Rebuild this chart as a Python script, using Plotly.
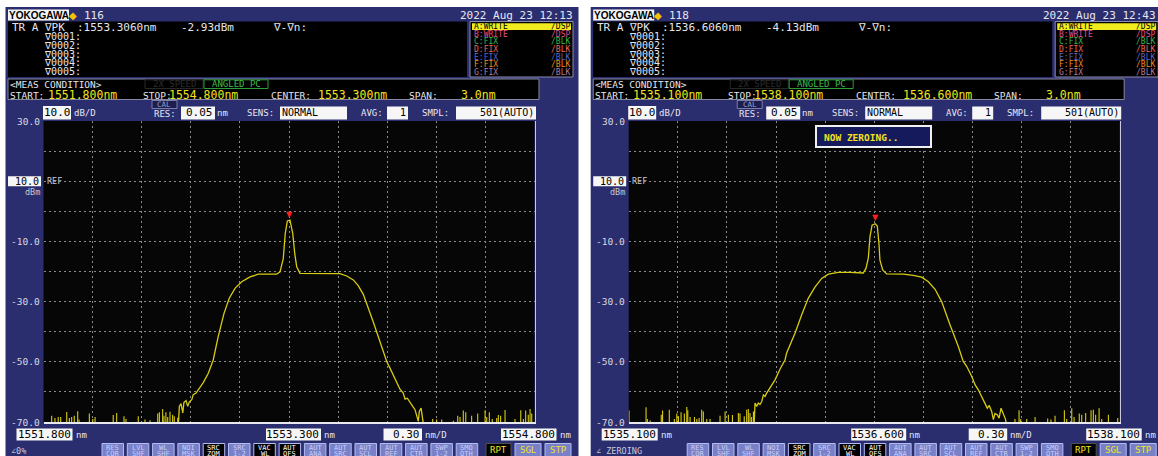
import plotly.graph_objects as go

W, H = 1158, 456

# ---------------- instrument readouts ----------------
screen_ids = ["116", "118"]
screen_dates = ["2022 Aug 23 12:13", "2022 Aug 23 12:43"]
screen_status = ["∠0%", "∠ ZEROING"]
starts = [1551.8, 1535.1]
stops = [1554.8, 1538.1]
centers = [1553.3, 1536.6]
peak_nm = [1553.306, 1536.606]
peak_dbm = [-2.93, -4.13]
nm_per_div = 0.30
db_per_div = 10.0
ref_level = 10.0
y_top, y_bottom = 30.0, -70.0
y_tick_vals = [30, 20, 10, 0, -10, -20, -30, -40, -50, -60, -70]
y_tick_text = ["30.0", "", "", "", "-10.0", "", "-30.0", "", "-50.0", "", "-70.0"]
res_nm, sens, avg, smpl = "0.05", "NORMAL", "1", "501(AUTO)"
trace_rows = [("A:WRITE", "/DSP"), ("B:WRITE", "/DSP"), ("C:FIX", "/BLK"), ("D:FIX", "/BLK"),
              ("E:FIX", "/BLK"), ("F:FIX", "/BLK"), ("G:FIX", "/BLK")]
trace_row_colors = ["#000000", "#e0508c", "#38b848", "#e86a5a", "#5a66c8", "#f08a20", "#b07ca0"]
buttons = [("RES", "COR"), ("LVL", "SHF"), ("WL", "SHF"), ("NOI", "MSK"), ("SRC", "ZOM"), ("SRC", "1-2"),
           ("VAC", "WL"), ("AUT", "OFS"), ("AUT", "ANA"), ("AUT", "SRC"), ("AUT", "SCL"), ("AUT", "REF"),
           ("AUT", "CTR"), ("SWP", "1-2"), ("SMO", "OTH")]
dark_buttons = [4, 6, 7]

# ---------------- spectrum, screen 1 ----------------
left_curve_nm = [1552.624, 1552.630, 1552.640, 1552.651, 1552.658, 1552.671, 1552.681, 1552.691, 1552.706, 1552.715,
                 1552.732, 1552.746, 1552.776, 1552.807, 1552.837, 1552.868, 1552.903, 1552.935, 1552.970, 1553.011,
                 1553.062, 1553.112, 1553.184, 1553.225, 1553.245, 1553.265, 1553.277, 1553.290, 1553.306, 1553.323,
                 1553.335, 1553.347, 1553.367, 1553.489, 1553.611, 1553.653, 1553.693, 1553.723, 1553.754, 1553.815,
                 1553.846, 1553.876, 1553.897, 1553.917, 1553.948, 1553.978, 1553.998, 1554.009, 1554.023, 1554.035,
                 1554.056, 1554.070, 1554.080, 1554.090, 1554.096, 1554.107, 1554.117, 1554.125]
left_curve_dbm = [-71.0, -64.8, -63.9, -67.0, -63.5, -62.9, -64.8, -63.3, -62.6, -60.9,
                  -60.4, -59.3, -56.9, -53.8, -49.4, -41.5, -33.9, -28.9, -25.6, -23.4,
                  -21.8, -20.9, -20.9, -20.9, -20.1, -15.7, -7.4, -3.2, -2.93, -7.4,
                  -14.0, -18.4, -20.6, -20.6, -20.7, -21.5, -22.8, -24.7, -27.6, -36.8,
                  -41.5, -46.4, -49.9, -52.1, -55.4, -59.1, -60.4, -62.4, -62.1, -63.2,
                  -64.8, -65.9, -67.9, -69.8, -66.5, -65.4, -69.2, -72.0]
left_noise_nm = [1551.850, 1551.870, 1551.890, 1551.905, 1551.942, 1551.958, 1551.972, 1551.988, 1552.009, 1552.017,
                 1552.080, 1552.101, 1552.115, 1552.226, 1552.247, 1552.292, 1552.304, 1552.379, 1552.420, 1552.451,
                 1552.498, 1552.508, 1552.528, 1552.536, 1552.548, 1552.559, 1552.573, 1552.589, 1552.599, 1552.620,
                 1554.178, 1554.202, 1554.233, 1554.304, 1554.331, 1554.345, 1554.365, 1554.380, 1554.416, 1554.453,
                 1554.498, 1554.508, 1554.524, 1554.542, 1554.569, 1554.579, 1554.593, 1554.620, 1554.681, 1554.716,
                 1554.732, 1554.746, 1554.762, 1554.773, 1554.783]
left_noise_dbm = [-67.9, -68.7, -68.3, -68.3, -66.7, -68.7, -68.3, -67.9, -66.4, -69.2,
                  -67.2, -69.0, -68.3, -67.7, -67.0, -68.1, -69.0, -68.1, -69.2, -69.4,
                  -67.2, -66.8, -65.7, -67.9, -66.8, -68.3, -66.6, -67.6, -68.1, -68.6,
                  -69.0, -69.2, -69.2, -69.6, -67.9, -68.3, -66.2, -66.8, -67.9, -67.2,
                  -66.1, -68.3, -66.8, -69.0, -68.7, -67.7, -67.9, -66.0, -69.0, -66.1,
                  -69.0, -66.2, -67.6, -65.7, -67.2]

# ---------------- spectrum, screen 2 ----------------
right_curve_nm = [1535.866, 1535.872, 1535.882, 1535.892, 1535.902, 1535.913, 1535.923, 1535.933, 1535.943, 1535.964,
                  1535.994, 1536.025, 1536.055, 1536.065, 1536.106, 1536.116, 1536.157, 1536.197, 1536.238, 1536.279,
                  1536.320, 1536.381, 1536.452, 1536.533, 1536.550, 1536.564, 1536.574, 1536.587, 1536.606, 1536.619,
                  1536.629, 1536.635, 1536.652, 1536.676, 1536.778, 1536.839, 1536.890, 1536.931, 1536.972, 1537.012,
                  1537.063, 1537.094, 1537.114, 1537.144, 1537.165, 1537.196, 1537.216, 1537.236, 1537.257, 1537.277,
                  1537.291, 1537.303, 1537.318, 1537.328, 1537.338, 1537.352, 1537.363, 1537.375, 1537.389, 1537.403,
                  1537.410]
right_curve_dbm = [-71.0, -63.7, -64.8, -63.7, -64.2, -63.2, -61.0, -61.5, -60.4, -58.7,
                   -56.0, -52.4, -49.4, -47.1, -42.0, -40.5, -34.4, -28.9, -25.2, -22.3,
                   -20.9, -20.3, -20.3, -20.5, -18.9, -15.6, -8.5, -4.6, -4.13, -4.9,
                   -10.7, -16.2, -19.5, -20.8, -20.9, -21.3, -21.9, -23.4, -25.9, -30.0,
                   -37.7, -42.0, -44.9, -49.9, -51.5, -54.9, -57.6, -59.3, -61.5, -63.7,
                   -65.4, -64.5, -66.5, -69.2, -67.2, -67.6, -68.7, -65.4, -67.6, -69.2,
                   -72.0]
right_noise_nm = [1535.102, 1535.206, 1535.214, 1535.231, 1535.299, 1535.307, 1535.348, 1535.379, 1535.394, 1535.404,
                  1535.420, 1535.440, 1535.455, 1535.461, 1535.475, 1535.502, 1535.516, 1535.530, 1535.546, 1535.556,
                  1535.577, 1535.597, 1535.658, 1535.689, 1535.709, 1535.734, 1535.770, 1535.780, 1535.806, 1535.821,
                  1535.831, 1535.841, 1535.851, 1535.862,
                  1537.460, 1537.485, 1537.495, 1537.532, 1537.583, 1537.660, 1537.680, 1537.705, 1537.762, 1537.776,
                  1537.807, 1537.821, 1537.853, 1537.868, 1537.892, 1537.925, 1537.939, 1537.953, 1537.974, 1537.990,
                  1538.031, 1538.088]
right_noise_dbm = [-66.2, -65.1, -69.0, -69.5, -67.6, -66.2, -65.9, -69.0, -67.2, -68.1,
                   -66.8, -67.2, -65.0, -66.1, -68.3, -68.3, -69.0, -68.7, -65.9, -66.5,
                   -69.0, -69.0, -67.9, -66.5, -67.6, -67.7, -67.0, -67.2, -68.1, -65.9,
                   -65.7, -67.0, -68.3, -66.5,
                   -69.0, -66.1, -69.0, -69.0, -68.3, -68.8, -69.2, -67.9, -66.1, -69.0,
                   -65.4, -68.3, -67.2, -67.6, -67.0, -66.1, -65.9, -67.6, -65.4, -69.0,
                   -67.6, -68.7]

curves_nm = [left_curve_nm, right_curve_nm]
curves_dbm = [left_curve_dbm, right_curve_dbm]
noise_nm = [left_noise_nm, right_noise_nm]
noise_dbm = [left_noise_dbm, right_noise_dbm]

# ---------------- styling ----------------
MONO = "DejaVu Sans Mono"
NAVY = "#2b2e6e"
WHITE = "#e6e6ee"
YEL = "#f2e41c"
TRACE = "#d8cc12"
GRID = "#8a8a8a"
BTN = "#7880c8"
BTN_LINE = "#b4bcf4"
PLOT_L, PLOT_R, PLOT_T, PLOT_B = 43.5, 534.5, 121.0, 422.0
DX = [0.0, 585.2]

shapes, annos = [], []


def px(x):
    return x / W


def py(y):
    return 1 - y / H


def ypix(v):
    return PLOT_T + (y_top - v) * (PLOT_B - PLOT_T) / (y_top - y_bottom)


def rect(x0, y0, x1, y1, fill, line=None, lw=1, layer="above"):
    shapes.append(dict(type="rect", xref="paper", yref="paper", x0=px(x0), x1=px(x1), y0=py(y1), y1=py(y0),
                       fillcolor=fill, layer=layer,
                       line=dict(color=line if line else "rgba(0,0,0,0)", width=lw if line else 0)))


def txt(x, y, s, size=11, color=WHITE, anchor="left", family=MONO):
    annos.append(dict(xref="paper", yref="paper", x=px(x), y=py(y), text=s, showarrow=False,
                      xanchor=anchor, yanchor="middle", borderpad=0,
                      font=dict(family=family, size=size, color=color)))


fig = go.Figure()

for i in range(2):
    dx = DX[i]
    ax = "" if i == 0 else "2"
    # panel background and plot area
    rect(5.5 + dx, 7, min(578.5 + dx, W + 2), H + 2, NAVY, layer="below")
    rect(PLOT_L + dx, PLOT_T, PLOT_R + dx, PLOT_B, "#060606", layer="below")

    # top bar
    rect(8 + dx, 9.5, 69 + dx, 20.5, "#f4f4f4")
    txt(38.5 + dx, 15, "<b>YOKOGAWA</b>", size=10, color="#000000", anchor="center", family="Liberation Sans")
    txt(73 + dx, 15, "◆", size=10, color="#f2c200", anchor="center", family="DejaVu Sans")
    txt(83 + dx, 15, screen_ids[i], size=11)
    txt(min(574 + dx, W - 1), 15, screen_dates[i], size=11, anchor="right")

    # marker readout box
    rect(8 + dx, 21.5, 467 + dx, 77, "#000000")
    txt(11 + dx, 28, "TR A", size=11)
    txt(43 + dx, 28, "∇PK", size=11)
    txt(76 + dx, 28, f":{peak_nm[i]:.4f}nm", size=11)
    txt(180 + dx, 28, f"{peak_dbm[i]:.2f}dBm", size=11)
    txt(272 + dx, 28, "∇-∇n:", size=11)
    for k in range(5):
        txt(43 + dx, 37 + 8.6 * k, f"∇{k + 1:04d}:", size=10)

    # trace list box
    rect(470 + dx, 21.5, 573 + dx, 77, "#000000", line="#8c8cb0")
    for k, (a, b) in enumerate(trace_rows):
        yy = 26.7 + 7.6 * k
        if k == 0:
            rect(472 + dx, yy - 3.4, 571 + dx, yy + 3.4, "#f2ec1e")
        txt(473 + dx, yy, a, size=8, color=trace_row_colors[k])
        txt(571 + dx, yy, b, size=8, color=trace_row_colors[k], anchor="right")

    # measurement condition box
    rect(8 + dx, 79, 539 + dx, 99.5, "#000000", line="#8888a0")
    txt(9 + dx, 84.5, "&lt;MEAS CONDITION&gt;", size=9.5)
    rect(145 + dx, 79.8, 203 + dx, 88.5, "#000000", line="#282828")
    txt(174 + dx, 84.2, "2X SPEED", size=9, color="#2c2c2c", anchor="center")
    rect(204 + dx, 79.8, 268 + dx, 88.5, "#000000", line="#2c9c38")
    txt(236 + dx, 84.2, "ANGLED PC", size=9, color="#3cbc48", anchor="center")
    txt(9 + dx, 95.5, "START:", size=9.5)
    txt(47 + dx, 94.8, f"{starts[i]:.3f}nm", size=11.5, color=YEL)
    txt(142 + dx, 95.5, "STOP:", size=9.5)
    txt(168 + dx, 94.8, f"{stops[i]:.3f}nm", size=11.5, color=YEL)
    txt(270 + dx, 95.5, "CENTER:", size=9.5)
    txt(317 + dx, 94.8, f"{centers[i]:.3f}nm", size=11.5, color=YEL)
    txt(408 + dx, 95.5, "SPAN:", size=9.5)
    txt(460 + dx, 94.8, f"{stops[i] - starts[i]:.1f}nm", size=11.5, color=YEL)

    # settings row
    rect(43 + dx, 106, 71 + dx, 119.5, "#f6f6f6")
    txt(57 + dx, 113, f"{db_per_div:.1f}", size=11, color="#000000", anchor="center")
    txt(73 + dx, 113.5, "dB/D", size=9)
    rect(152 + dx, 100.5, 177 + dx, 108.5, "#1c1e50", line="#7a7ea8")
    txt(164.5 + dx, 104.5, "CAL", size=7.5, color="#9aa0c8", anchor="center")
    txt(153 + dx, 114, "RES:", size=9)
    rect(181 + dx, 106.5, 215 + dx, 119.5, "#f6f6f6")
    txt(214 + dx, 113, res_nm, size=11, color="#000000", anchor="right")
    txt(216 + dx, 113.5, "nm", size=9)
    txt(246 + dx, 113.5, "SENS:", size=9)
    rect(280 + dx, 106.5, 347 + dx, 119.5, "#f6f6f6")
    txt(281 + dx, 113, sens, size=10, color="#000000")
    txt(360 + dx, 113.5, "AVG:", size=9)
    rect(387 + dx, 106.5, 408 + dx, 119.5, "#f6f6f6")
    txt(407 + dx, 113, avg, size=10, color="#000000", anchor="right")
    txt(421 + dx, 113.5, "SMPL:", size=9)
    rect(456 + dx, 106.5, 536 + dx, 119.5, "#f6f6f6")
    txt(535 + dx, 113, smpl, size=10, color="#000000", anchor="right")

    # y labels and REF box
    for v, t in zip(y_tick_vals, y_tick_text):
        if t:
            txt(41 + dx, ypix(v), t, size=9.5, color="#d8d8e0", anchor="right")
    yr = ypix(ref_level)
    rect(8 + dx, yr - 5, 41 + dx, yr + 5, "#f6f6f6")
    txt(40 + dx, yr, f"{ref_level:.1f}", size=10, color="#000000", anchor="right")
    txt(46 + dx, yr, "REF", size=8.5, color="#c8c8d0")
    txt(41 + dx, yr + 10.5, "dBm", size=8.5, color="#c8c8d0", anchor="right")

    # bottom wavelength labels
    yb = 434.5
    for (x0, x1, val, unit) in [(16.5, 72.5, f"{starts[i]:.3f}", "nm"),
                                 (266, 321, f"{centers[i]:.3f}", "nm"),
                                 (383.5, 422, f"{nm_per_div:.2f}", "nm/D"),
                                 (501, 556.5, f"{stops[i]:.3f}", "nm")]:
        rect(x0 + dx, yb - 6, x1 + dx, yb + 6, "#f6f6f6")
        txt(x1 - 1 + dx, yb, val, size=11, color="#000000", anchor="right")
        txt(x1 + 2 + dx, yb + 0.5, unit, size=9)

    # bottom buttons (cut by the bottom edge of the screen, as in the photo)
    txt(10 + dx, 450.5, screen_status[i], size=8.5, color="#c8c8dc")
    for k, (a, b) in enumerate(buttons):
        x0 = 102 + dx + k * 25.3
        dark = k in dark_buttons
        rect(x0, 443.5, x0 + 21.5, H + 4, "#000000" if dark else BTN, line=BTN_LINE)
        col = "#ffffff" if dark else "#c8cef8"
        txt(x0 + 10.75, 447.6, a, size=7, color=col, anchor="center")
        txt(x0 + 10.75, 453.6, b, size=7, color=col, anchor="center")
    rect(486 + dx, 443.5, 511 + dx, H + 4, "#000000", line="#505050")
    txt(498.5 + dx, 450, "RPT", size=9, color=YEL, anchor="center")
    rect(515 + dx, 443.5, 541 + dx, H + 4, BTN, line=BTN_LINE)
    txt(528 + dx, 450, "SGL", size=9, color=YEL, anchor="center")
    rect(545 + dx, 443.5, 571 + dx, H + 4, BTN, line=BTN_LINE)
    txt(558 + dx, 450, "STP", size=9, color=YEL, anchor="center")

    # spectrum trace
    fig.add_trace(go.Scatter(x=curves_nm[i], y=curves_dbm[i], mode="lines",
                             line=dict(color=TRACE, width=1.3), xaxis="x" + ax, yaxis="y" + ax,
                             hoverinfo="skip"))
    sx, sy = [], []
    for n, d in zip(noise_nm[i], noise_dbm[i]):
        sx += [n, n, None]
        sy += [y_bottom - 5, d, None]
    fig.add_trace(go.Scatter(x=sx, y=sy, mode="lines", line=dict(color=TRACE, width=1.1),
                             xaxis="x" + ax, yaxis="y" + ax, hoverinfo="skip"))
    # peak marker
    annos.append(dict(xref="x" + ax, yref="y" + ax, x=peak_nm[i], y=peak_dbm[i], text="▼", showarrow=False,
                      yshift=6, xanchor="center", yanchor="middle",
                      font=dict(family="DejaVu Sans", size=8, color="#ff2020")))

# "NOW ZEROING.." dialog on second screen
rect(816, 126, 931, 147, "#141a5c", line="#f0f0f0", lw=2)
txt(823, 137, "<b>NOW ZEROING..</b>", size=9.5, color=YEL)

xcommon = dict(dtick=nm_per_div, showgrid=True, gridcolor=GRID, griddash="2px,3px", gridwidth=1,
               zeroline=False, showticklabels=False, ticks="", showline=True, linecolor="#e8e8f0",
               linewidth=2, fixedrange=True)
ycommon = dict(range=[y_bottom, y_top], dtick=db_per_div, tick0=y_bottom, showgrid=True, gridcolor=GRID,
               griddash="2px,3px", gridwidth=1, zeroline=False, showticklabels=False, ticks="",
               showline=True, side="right", linecolor="#c8c8e0", linewidth=1, fixedrange=True)
ydom = [py(PLOT_B), py(PLOT_T)]

fig.update_layout(
    width=W, height=H, margin=dict(l=0, r=0, t=0, b=0),
    paper_bgcolor="white", plot_bgcolor="rgba(0,0,0,0)", showlegend=False,
    xaxis=dict(domain=[px(PLOT_L), px(PLOT_R)], range=[starts[0], stops[0]], tick0=starts[0],
               anchor="y", **xcommon),
    yaxis=dict(domain=ydom, anchor="x", **ycommon),
    xaxis2=dict(domain=[px(PLOT_L + DX[1]), px(PLOT_R + DX[1])], range=[starts[1], stops[1]],
                tick0=starts[1], anchor="y2", **xcommon),
    yaxis2=dict(domain=ydom, anchor="x2", **ycommon),
    shapes=shapes, annotations=annos,
)

fig.write_html("out.html", config={"displayModeBar": False},
               post_script="document.body.style.margin='0';document.body.style.padding='0';"
                           "document.documentElement.style.overflow='hidden';")
